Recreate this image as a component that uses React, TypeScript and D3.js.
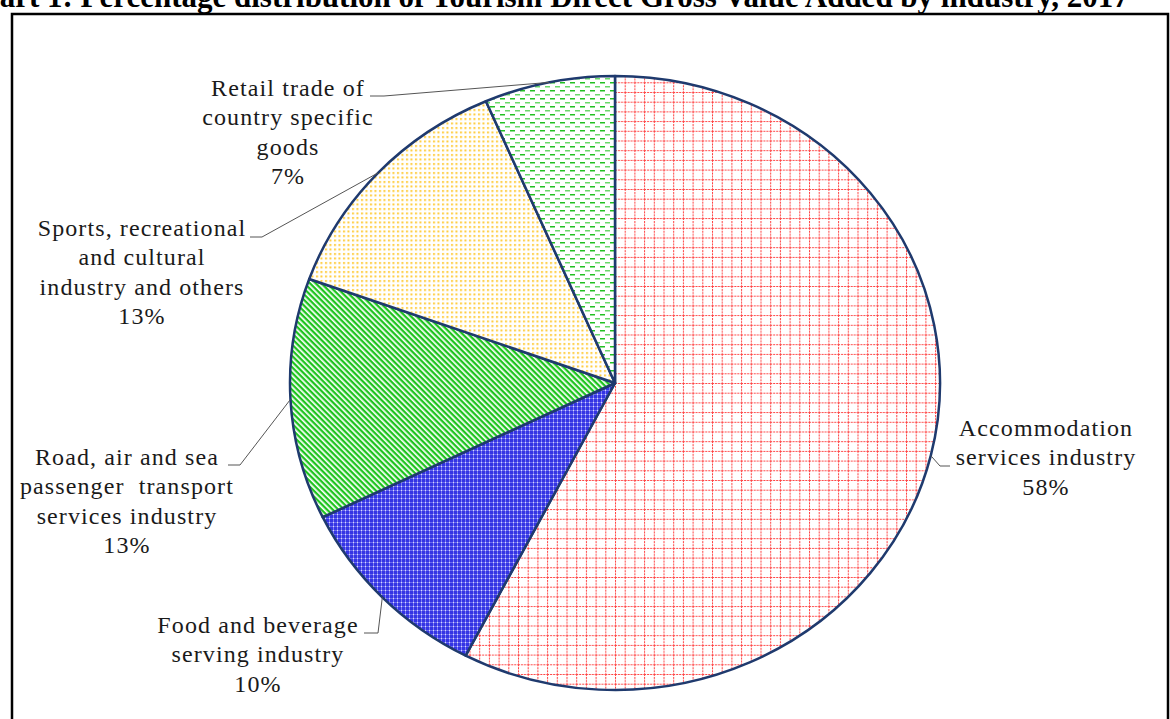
import React from "react";
import * as d3 from "d3";

const categories = [
  "Accommodation services industry",
  "Food and beverage serving industry",
  "Road, air and sea passenger transport services industry",
  "Sports, recreational and cultural industry and others",
  "Retail trade of country specific goods",
];
const values = [57.6, 10.2, 12.7, 13.0, 6.5];
const labelLines = [
  ["Accommodation", "services industry"],
  ["Food and beverage", "serving industry"],
  ["Road, air and sea", "passenger  transport", "services industry"],
  ["Sports, recreational", "and cultural", "industry and others"],
  ["Retail trade of", "country specific", "goods"],
];
const patternIds = ["pRed", "pBlue", "pGreenDiag", "pYellow", "pGreenDash"];
const title = "Chart 1: Percentage distribution of Tourism Direct Gross Value Added by industry, 2017";

// label layout: center x, first line baseline, leader anchor (text end) x, leader elbow x
const labelPos = [
  { cx: 1046, y0: 436, ex: 950, ey: 466, hx: 940 },
  { cx: 258, y0: 633, ex: 364, ey: 633, hx: 378 },
  { cx: 127, y0: 465, ex: 228, ey: 465, hx: 240 },
  { cx: 142, y0: 236, ex: 250, ey: 237, hx: 262 },
  { cx: 288, y0: 96, ex: 370, ey: 96, hx: 384 },
];

export default function App() {
  const W = 1170, H = 719;
  const cx = 615, cy = 383, rx = 325, ry = 307;
  const total = d3.sum(values);
  const pie = d3.pie<number>().sort(null).value((d) => d);
  const arcs = pie(values);
  const pt = (a: number) => [cx + rx * Math.sin(a), cy - ry * Math.cos(a)];
  const slicePath = (a0: number, a1: number) => {
    const [x0, y0] = pt(a0);
    const [x1, y1] = pt(a1);
    const large = a1 - a0 > Math.PI ? 1 : 0;
    return `M${cx},${cy}L${x0},${y0}A${rx},${ry} 0 ${large} 1 ${x1},${y1}Z`;
  };
  const font = "'Liberation Serif', 'Times New Roman', serif";
  return (
    <svg width={W} height={H} style={{ position: "absolute", left: 0, top: 0, background: "#fff" }}>
      <defs>
        <pattern id="pRed" width={9.7} height={9.7} patternUnits="userSpaceOnUse" x={cx} y={cy}>
          <rect width={9.7} height={9.7} fill="#fff" />
          <line x1={0.5} y1={0} x2={0.5} y2={9.7} stroke="#ff4040" strokeWidth={1} strokeDasharray="2 1" />
          <line x1={0} y1={0.5} x2={9.7} y2={0.5} stroke="#ff4040" strokeWidth={1} strokeDasharray="2 1" />
        </pattern>
        <pattern id="pBlue" width={4} height={4} patternUnits="userSpaceOnUse">
          <rect width={4} height={4} fill="#3434e4" />
          <rect x={1} y={0} width={1} height={4} fill="#7c7cf0" />
          <rect x={0} y={2} width={4} height={1} fill="#6a6aee" />
          <rect x={1} y={2} width={1} height={1} fill="#d8d8ff" />
        </pattern>
        <pattern id="pGreenDiag" width={4} height={4} patternUnits="userSpaceOnUse" patternTransform="rotate(45)">
          <rect width={4} height={4} fill="#fff" />
          <rect width={4} height={2.3} fill="#1ec41e" />
        </pattern>
        <pattern id="pYellow" width={4.5} height={4.5} patternUnits="userSpaceOnUse">
          <rect width={4.5} height={4.5} fill="#fff" />
          <rect x={1} y={1} width={2} height={2} fill="#ffc214" opacity={0.85} />
        </pattern>
        <pattern id="pGreenDash" width={10} height={8} patternUnits="userSpaceOnUse">
          <rect width={10} height={8} fill="#fff" />
          <rect x={0} y={2} width={5} height={1.5} fill="#22c022" />
          <rect x={5} y={6} width={5} height={1.5} fill="#6ad86a" />
        </pattern>
      </defs>

      <text x={-40} y={7} fontFamily={font} fontWeight="bold" fontSize={31} fill="#000">
        {title}
      </text>
      <rect x={12} y={14} width={1156} height={720} fill="none" stroke="#000" strokeWidth={2.5} />

      {arcs.map((a, i) => (
        <path key={i} d={slicePath(a.startAngle, a.endAngle)} fill={`url(#${patternIds[i]})`}
          stroke="#1f3a6e" strokeWidth={2.5} strokeLinejoin="round" />
      ))}

      {arcs.map((a, i) => {
        const mid = (a.startAngle + a.endAngle) / 2;
        const [mx, my] = pt(mid);
        const lp = labelPos[i];
        return (
          <polyline key={i} points={`${lp.ex},${lp.ey} ${lp.hx},${lp.ey} ${mx},${my}`}
            fill="none" stroke="#555" strokeWidth={1} />
        );
      })}

      {arcs.map((a, i) => {
        const lp = labelPos[i];
        const lines = [...labelLines[i], `${Math.round((values[i] / total) * 100)}%`];
        return (
          <text key={i} fontFamily={font} fontSize={24} letterSpacing={1.1} fill="#1a1a1a" textAnchor="middle">
            {lines.map((l, j) => (
              <tspan key={j} x={lp.cx} y={lp.y0 + j * 29.3} style={{ whiteSpace: "pre" }}>{l}</tspan>
            ))}
          </text>
        );
      })}
    </svg>
  );
}
